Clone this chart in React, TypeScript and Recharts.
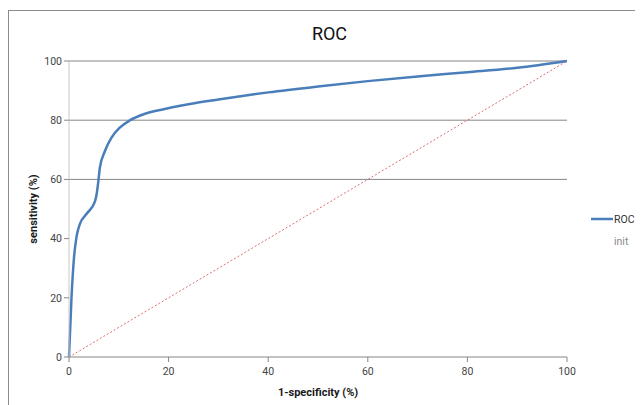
import React from 'react';
import { LineChart, Line, XAxis, YAxis, ReferenceLine } from 'recharts';

// ROC curve (1-specificity %, sensitivity %)
const rocX = [0, 0.5, 1, 1.5, 2.2, 3.5, 5.2, 5.6, 5.9, 6.2, 7.2, 8.5, 10.2, 12.3, 15, 19, 24, 30, 36.5, 40, 50, 60, 70, 80, 90, 100];
const rocY = [0, 20, 33.5, 40.5, 45, 48.3, 52.5, 55.5, 59.5, 64, 69.5, 74, 77.5, 80, 82, 83.7, 85.4, 87, 88.6, 89.4, 91.4, 93.2, 94.8, 96.2, 97.7, 100];

// chance line
const initX = [0, 100];
const initY = [0, 100];

const xTicks = [0, 20, 40, 60, 80, 100];
const yTicks = [0, 20, 40, 60, 80, 100];
const gridValues = [60, 80, 100];

const rocData = rocX.map((x, i) => ({ x, y: rocY[i] }));
const initData = initX.map((x, i) => ({ x, y: initY[i] }));

const FONT = 'Roboto, "Liberation Sans", sans-serif';

const YLabel = (props: any) => {
  const vb = props.viewBox || {};
  const cy = vb.y + vb.height / 2;
  return (
    <text x={24} y={cy} transform={`rotate(-90, 24, ${cy})`} textAnchor="middle" dominantBaseline="central"
      fontSize={11} fontWeight="bold" fill="#1a1a1a" fontFamily={FONT}>
      sensitivity (%)
    </text>
  );
};

const XLabel = (props: any) => {
  const vb = props.viewBox || {};
  const cx = vb.x + vb.width / 2;
  return (
    <text x={cx} y={vb.y + 35} textAnchor="middle" dominantBaseline="central"
      fontSize={11} fontWeight="bold" fill="#1a1a1a" fontFamily={FONT}>
      1-specificity (%)
    </text>
  );
};

// legend drawn by hand so it does not eat into the plot area
const LegendBox = () => (
  <div style={{ position: 'absolute', left: 582, top: 200, fontFamily: FONT, fontSize: 10.5 }}>
    <div style={{ display: 'flex', alignItems: 'center', height: 16 }}>
      <svg width={22} height={16}>
        <line x1={0} y1={8} x2={22} y2={8} stroke="#4a7ebb" strokeWidth={2.5} />
      </svg>
      <span style={{ color: '#333', marginLeft: 1 }}>ROC</span>
    </div>
    <div style={{ height: 16, marginTop: 7, lineHeight: '16px', paddingLeft: 23, color: '#8a8a8a' }}>init</div>
  </div>
);

export default function App() {
  return (
    <div style={{ marginTop: 2, width: 634, height: 394, borderTop: '1px solid #8c8c8c', borderLeft: '1px solid #8c8c8c', position: 'relative' }}>
      <div style={{ position: 'absolute', left: 220.5, top: 12.5, width: 200, textAlign: 'center', lineHeight: '20px', fontSize: 18, fontFamily: FONT, color: '#111' }}>
        ROC
      </div>
      <LineChart width={634} height={394} margin={{ top: 50, right: 76, left: 0, bottom: 0 }}>
        <XAxis
          type="number"
          dataKey="x"
          domain={[0, 100]}
          ticks={xTicks}
          height={48}
          tickSize={5}
          tickMargin={6}
          axisLine={{ stroke: '#868686' }}
          tickLine={{ stroke: '#868686' }}
          tick={{ fontSize: 10.5, fill: '#444', fontFamily: FONT }}
          label={{ content: XLabel }}
        />
        <YAxis
          type="number"
          domain={[0, 100]}
          ticks={yTicks}
          width={60}
          tickSize={5}
          tickMargin={2}
          axisLine={{ stroke: '#c8c8c8' }}
          tickLine={{ stroke: '#868686' }}
          tick={{ fontSize: 10.5, fill: '#444', fontFamily: FONT }}
          label={{ content: YLabel }}
        />
        {gridValues.map((v) => (
          <ReferenceLine key={v} y={v} stroke="#868686" strokeWidth={1} />
        ))}
        <Line
          data={initData}
          dataKey="y"
          name="init"
          type="linear"
          stroke="#e07070"
          strokeWidth={1}
          strokeDasharray="2 2"
          dot={false}
          isAnimationActive={false}
        />
        <Line
          data={rocData}
          dataKey="y"
          name="ROC"
          type="monotone"
          stroke="#4a7ebb"
          strokeWidth={2.5}
          dot={false}
          isAnimationActive={false}
        />
      </LineChart>
      <LegendBox />
    </div>
  );
}
